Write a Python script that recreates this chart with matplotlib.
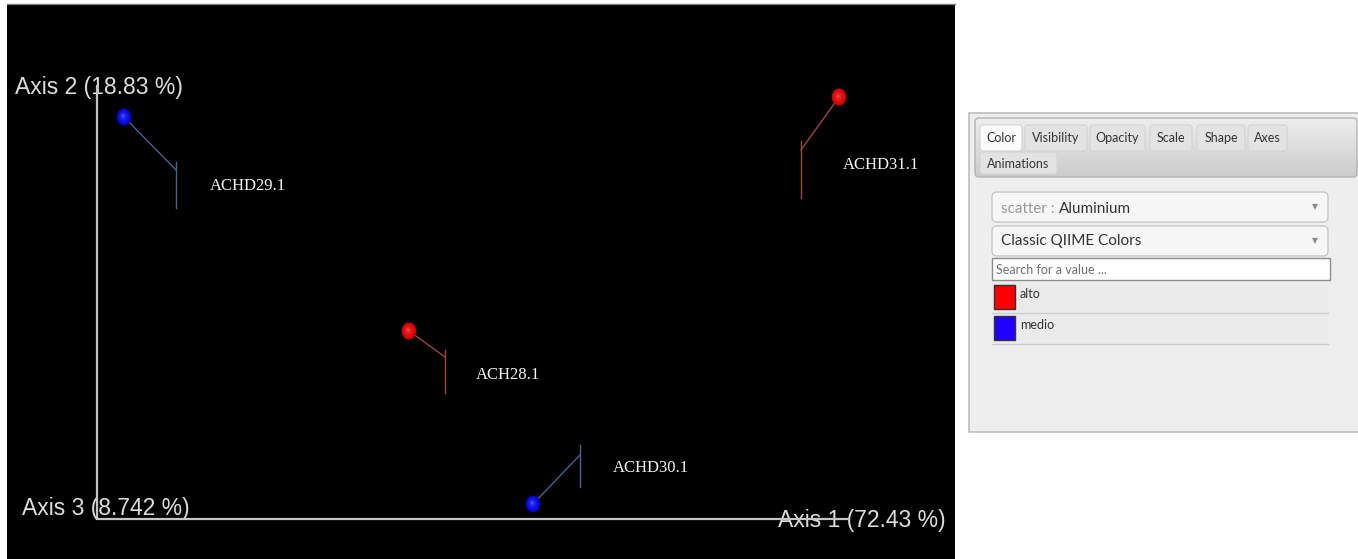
import numpy as np
import matplotlib.pyplot as plt
from matplotlib.patches import Ellipse, FancyBboxPatch, Rectangle
from matplotlib.colors import to_rgb

# PCoA sample coordinates (first two axes) and their metadata level
samples = ['ACHD29.1', 'ACH28.1', 'ACHD30.1', 'ACHD31.1']
aluminium = ['medio', 'alto', 'medio', 'alto']
pc1 = [-0.316, -0.031, 0.093, 0.399]
pc2 = [0.183, -0.031, -0.204, 0.203]
explained = [72.43, 18.83, 8.742]

levels = ['alto', 'medio']
level_colors = {'alto': '#ff0000', 'medio': '#2200ff'}
sphere_shades = {'alto': ('#d00000', '#ff4040'), 'medio': ('#0000d0', '#4050ff')}
leader_colors = {'alto': '#9a4838', 'medio': '#44648e'}

# label leader geometry in pixels (dx, dy with y pointing down):
# joint of the leader, vertical tick extent above/below joint, label anchor
leader_joint = [(52, 53), (36, 26), (47, -49), (-38, 53)]
leader_tick = [(-8, 38), (-7, 36), (-10, 32), (-9, 48)]
label_pos = [(86, 69), (67, 44), (80, -36), (4, 68)]

PX = 0.001  # data units per pixel in the scene

fig = plt.figure(figsize=(13.58, 5.59), dpi=100)
fig.patch.set_facecolor('white')

# ---- 3D scene (shown as its projection) ----
ax = fig.add_axes([7 / 1358, 0, 948 / 1358, 555 / 559])
ax.set_facecolor('black')
ax.set_xlim(-0.433, 0.515)
ax.set_ylim(-0.259, 0.296)
ax.set_xticks([])
ax.set_yticks([])
for side in ['left', 'right', 'bottom']:
    ax.spines[side].set_visible(False)
ax.spines['top'].set_color('#7a7a7a')
ax.spines['top'].set_linewidth(1.0)

ox, oy = -0.343, -0.219
ax.plot([ox, 0.410], [oy, oy], color='#c4c4c4', lw=1.6, zorder=6,
        solid_capstyle='butt')
ax.plot([ox, ox], [oy, 0.215], color='#c4c4c4', lw=1.6, zorder=6,
        solid_capstyle='butt')

axis_font = dict(family='Liberation Sans', fontsize=16.5, color='#dcdcdc',
                 va='center', ha='left', zorder=5)
ax.text(0.338, -0.220, 'Axis 1 (%.2f %%)' % explained[0], **axis_font)
ax.text(-0.425, 0.212, 'Axis 2 (%.2f %%)' % explained[1], **axis_font)
ax.text(-0.418, -0.208, 'Axis 3 (%.3f %%)' % explained[2], **axis_font)

for i, name in enumerate(samples):
    x, y = pc1[i], pc2[i]
    lvl = aluminium[i]
    jx, jy = x + leader_joint[i][0] * PX, y - leader_joint[i][1] * PX
    ax.plot([x, jx], [y, jy], color=leader_colors[lvl], lw=1.0, zorder=3)
    ax.plot([jx, jx], [jy - leader_tick[i][0] * PX, jy - leader_tick[i][1] * PX],
            color=leader_colors[lvl], lw=1.0, zorder=3)
    ax.text(x + label_pos[i][0] * PX, y - label_pos[i][1] * PX, name,
            family='Liberation Serif', fontsize=12, color='#f4f4f4',
            va='center', ha='left', zorder=4)

    # shaded sphere
    edge = np.array(to_rgb(sphere_shades[lvl][0]))
    core = np.array(to_rgb(sphere_shades[lvl][1]))
    steps = 12
    for k in range(steps):
        f = k / (steps - 1)
        s = 1 - 0.85 * f
        col = edge * (1 - f) ** 0.5 + core * (1 - (1 - f) ** 0.5)
        ax.add_patch(Ellipse((x - 0.001 * f, y + 0.0012 * f),
                             0.0145 * s, 0.017 * s, fc=col, ec='none',
                             zorder=7 + k * 0.01))

# ---- colour controls panel ----
ui = fig.add_axes([960 / 1358, 0, 398 / 1358, 1])
ui.axis('off')

ui.add_patch(Rectangle((969, 113), 392, 319, fc='#eeeeee', ec='#bdbdbd', lw=1.2))

bar = FancyBboxPatch((975, 118), 382, 59, boxstyle='round,pad=0,rounding_size=4',
                     fc='none', ec='#b4b4b4', lw=1.0, zorder=2)
ui.add_patch(bar)
grad = np.linspace(0.93, 0.80, 64)[:, None]
img = ui.imshow(np.dstack([grad, grad, grad]), extent=(975, 1357, 177, 118),
                aspect='auto', origin='upper', zorder=1)
img.set_clip_path(bar)

ui_font = 'Lato'
tabs = ['Color', 'Visibility', 'Opacity', 'Scale', 'Shape', 'Axes']
tab_x = [980, 1025, 1090, 1150, 1197, 1248]
tab_w = [42, 62, 55, 42, 48, 39]
for name, tx, tw in zip(tabs, tab_x, tab_w):
    active = name == 'Color'
    ui.add_patch(FancyBboxPatch((tx, 125), tw, 26, boxstyle='round,pad=0,rounding_size=3',
                                fc='#fbfbfb' if active else '#e3e3e3',
                                ec='#d4d4d4', lw=0.8, zorder=3))
    ui.text(tx + tw / 2, 137.5, name, family=ui_font, fontsize=9, color='#333333',
            ha='center', va='center', zorder=4)
ui.add_patch(FancyBboxPatch((980, 152), 77, 22, boxstyle='round,pad=0,rounding_size=3',
                            fc='#e3e3e3', ec='#d4d4d4', lw=0.8, zorder=3))
ui.text(1018.5, 163.5, 'Animations', family=ui_font, fontsize=9, color='#333333',
        ha='center', va='center', zorder=4)

for top, h in [(192, 30), (226, 30)]:
    ui.add_patch(FancyBboxPatch((992, top), 336, h, boxstyle='round,pad=0,rounding_size=5',
                                fc='#f7f7f7', ec='#c9c9c9', lw=1.0, zorder=3))
    ui.text(1315, top + h / 2, '\u25bc', family='DejaVu Sans', fontsize=5.5,
            color='#8a8a8a', ha='center', va='center', zorder=4)
ui.text(1001, 209, 'scatter :', family=ui_font, fontsize=11, color='#9a9a9a',
        ha='left', va='center', zorder=4)
ui.text(1059, 209, 'Aluminium', family=ui_font, fontsize=11, color='#333333',
        ha='left', va='center', zorder=4)
ui.text(1001, 241, 'Classic QIIME Colors', family=ui_font, fontsize=11, color='#333333',
        ha='left', va='center', zorder=4)

ui.add_patch(Rectangle((992, 258), 338, 22, fc='white', ec='#8c8c8c', lw=1.0, zorder=3))
ui.text(996, 269.5, 'Search for a value ...', family=ui_font, fontsize=9,
        color='#707070', ha='left', va='center', zorder=4)

for j, lvl in enumerate(levels):
    top = 283 + j * 31
    ui.add_patch(Rectangle((992, top), 336, 30, fc='#ebebeb', ec='none', zorder=3))
    ui.plot([992, 1328], [top + 30, top + 30], color='#cdcdcd', lw=1.0, zorder=4)
    ui.add_patch(Rectangle((994, top + 2), 21, 24, fc=level_colors[lvl],
                           ec='#333333', lw=1.0, zorder=4))
    ui.text(1020, top + 11, lvl, family=ui_font, fontsize=9, color='#333333',
            ha='left', va='center', zorder=5)

ui.set_xlim(960, 1358)
ui.set_ylim(559, 0)

fig.savefig('out.png', dpi=100, facecolor='white')
